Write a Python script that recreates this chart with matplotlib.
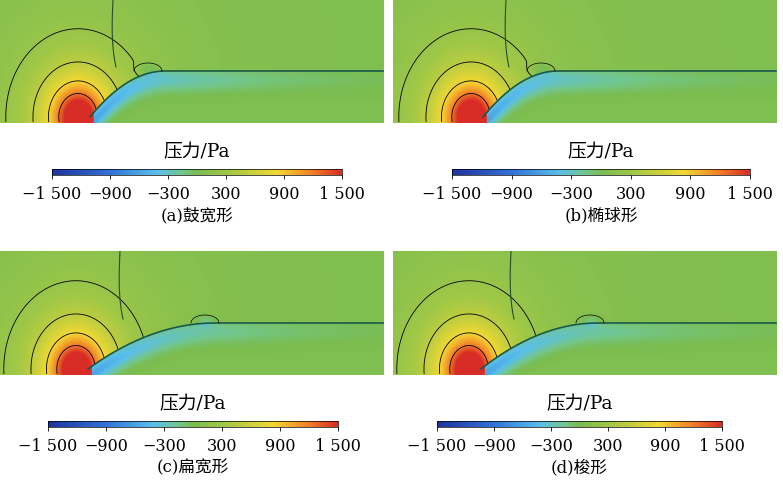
import numpy as np
import matplotlib
matplotlib.use("Agg")
import matplotlib.pyplot as plt
from matplotlib.colors import LinearSegmentedColormap

plt.rcParams['font.family'] = ['DejaVu Serif', 'Noto Sans CJK SC']

# ---- data ----
captions = ["(a)鼓宽形", "(b)椭球形", "(c)扁宽形", "(d)梭形"]
tick_values = [-1500, -900, -300, 300, 900, 1500]
tick_labels = ["−1 500", "−900", "−300", "300", "900", "1 500"]
nose_x = [90, 90, 88, 88]          # stagnation point (px in panel)
ramp_end_x = [165, 165, 215, 205]  # where body top becomes horizontal
bump_x = [148, 148, 205, 197]      # small low-pressure bump
shock_x = [113, 113, 120, 118]
panel_boxes = [(0, 0), (393, 0), (0, 252), (393, 252)]  # top-left px
cbar_x = [(52, 342), (452, 750), (48, 338), (437, 722)]

W, H = 783, 502
PW, PH = 384, 124

colors = [(0.12, 0.2, 0.62), (0.2, 0.45, 0.85), (0.35, 0.75, 0.92),
          (0.45, 0.78, 0.55), (0.48, 0.74, 0.32), (0.62, 0.78, 0.28),
          (0.95, 0.85, 0.2), (0.95, 0.5, 0.15), (0.85, 0.18, 0.15)]
cmap = LinearSegmentedColormap.from_list(
    "p", list(zip([0, 0.2, 0.36, 0.45, 0.5, 0.6, 0.78, 0.9, 1.0], colors)))

fig = plt.figure(figsize=(W / 100, H / 100), dpi=100)

def fx(x): return x / W
def fy(y): return 1 - y / H

xx, yy = np.meshgrid(np.arange(PW), np.arange(PH))
for i in range(4):
    px, py = panel_boxes[i]
    ax = fig.add_axes([fx(px), fy(py + PH), PW / W, PH / H])
    nx, ny = nose_x[i], 118
    t = np.clip((xx - nx) / (ramp_end_x[i] - nx), 0, 1)
    body_y = ny - (ny - 72) * (1 - (1 - t) ** 2)
    body_y = np.where(xx < nx, 200, body_y)
    r = np.hypot((xx - nx + 12) * 1.1, (yy - ny) * 0.9)
    p = 1900 / (1 + (r / 28) ** 2)
    below = yy > body_y
    p = np.where(below & (xx > nx + 3), 0, p)
    low = -650 * np.exp(-((yy - body_y - 8) / 12) ** 2) * np.exp(-np.clip(xx - nx, 0, None) / 120) * (xx > nx + 3)
    p = p + np.where(below, low, 0)
    p += -250 * np.exp(-((xx - bump_x[i]) ** 2 / 80 + (yy - 70) ** 2 / 30))
    p += 40
    ax.imshow(p, cmap=cmap, vmin=-1500, vmax=1500, origin='upper',
              extent=(0, PW, PH, 0), aspect='auto', interpolation='bilinear')
    pm = np.where(below & (xx > nx + 3), np.nan, p)
    ax.contour(xx, yy, pm, levels=[250, 500, 850, 1250],
               colors='k', linewidths=0.6)
    xl = np.arange(nx, PW)
    tl = np.clip((xl - nx) / (ramp_end_x[i] - nx), 0, 1)
    ax.plot(xl, ny - (ny - 72) * (1 - (1 - tl) ** 2), color=(0.1, 0.35, 0.3), lw=1.2)
    ys = np.linspace(0, 68, 50)
    ax.plot(shock_x[i] + 6 * (ys / 68) ** 3 - 3 * (ys / 68), ys, color=(0.15, 0.3, 0.2), lw=0.8)
    ax.plot(bump_x[i] + 14 * np.cos(np.linspace(0, np.pi, 30)),
            72 - 8 * np.sin(np.linspace(0, np.pi, 30)), color='k', lw=0.5)
    ax.set_xlim(0, PW); ax.set_ylim(PH, 0); ax.axis('off')

    x0, x1 = cbar_x[i]
    cy = py + 170
    cax = fig.add_axes([fx(x0), fy(cy + 6), (x1 - x0) / W, 6 / H])
    grad = np.linspace(-1500, 1500, 300)[None, :]
    cax.imshow(grad, cmap=cmap, aspect='auto', extent=(-1500, 1500, 0, 1))
    cax.set_yticks([])
    cax.set_xticks(tick_values)
    cax.set_xticklabels(tick_labels, fontsize=11.5)
    cax.tick_params(axis='x', length=3, width=0.6, pad=4)
    for s in cax.spines.values():
        s.set_linewidth(0.5)
    cx = (x0 + x1) / 2
    fig.text(fx(cx), fy(py + 152), "压力/Pa", fontsize=13.5, ha='center', va='center')
    fig.text(fx(cx), fy(py + 216), captions[i], fontsize=12, ha='center', va='center')

fig.savefig("out.png", dpi=100)
